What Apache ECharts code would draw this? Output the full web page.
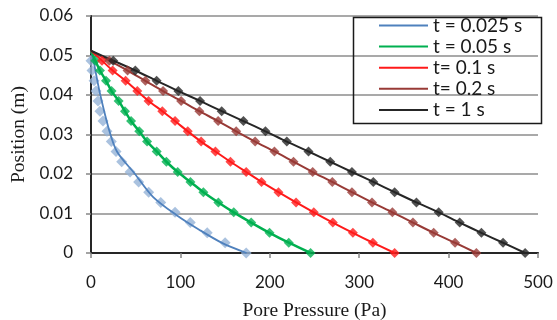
<!DOCTYPE html>
<html>
<head>
<meta charset="utf-8">
<script src="https://cdn.jsdelivr.net/npm/echarts@6/dist/echarts.min.js"></script>
<style>
  html, body { margin: 0; padding: 0; background: #fff; }
  #chart { width: 557px; height: 320px; }
</style>
</head>
<body>
<div id="chart"></div>
<script>
// positions of the nodes (m), bottom to top
const positions = [0, 0.0026, 0.0051, 0.0077, 0.0103, 0.0128, 0.0154, 0.0180, 0.0205, 0.0231,
                   0.0257, 0.0282, 0.0308, 0.0334, 0.0359, 0.0385, 0.0410, 0.0436, 0.0462, 0.0487];
const topPosition = 0.0512;

const seriesNames = ['t = 0.025 s', 't = 0.05 s', 't= 0.1 s', 't= 0.2 s', 't = 1 s'];

// pore pressure (Pa) at each node
const p0025 = [173.6, 150, 130, 111, 94, 78, 64.5, 53.3, 43.7, 34.3, 28, 22.7, 17.9, 13.4, 10, 7.8, 5.6, 3.4, 1.1, 0];
const p005 = [245.6, 221.2, 199.7, 179.2, 159.7, 142.5, 125.7, 111.2, 97, 84.3, 73.5, 62.7, 54, 44.8, 38, 30.9, 23, 16.8, 10, 4.8];
const p01 = [339.6, 315.3, 292.9, 270.5, 249.2, 229.4, 209.7, 190.7, 173.6, 156, 139.2, 123.2, 108.2, 94, 79.8, 64.4, 51.8, 38.7, 24.2, 12.3];
const p02 = [431.1, 407.2, 383.3, 360.1, 337.1, 314.3, 291.9, 269.9, 248, 226.5, 205.2, 183.6, 162.4, 142.2, 121.2, 100.8, 80.6, 60.8, 40.9, 20.5];
const p1 = [485.6, 460.9, 436.7, 412.4, 388.9, 364, 339.6, 315.8, 291.9, 267.6, 243.3, 219, 195.1, 170.5, 146.2, 122, 97.7, 73.4, 49.6, 24.9];

// analytical curve for t = 0.025 s
const curve0025P = [174, 147, 121, 95, 69, 48.5, 29, 19.7, 10.4, 5.9, 3.4, 0];
const curve0025Y = [0, 0.0025, 0.0059, 0.0097, 0.0143, 0.0202, 0.0257, 0.0316, 0.040, 0.045, 0.048, 0.0512];

const xTicks = [0, 100, 200, 300, 400, 500];
const yTicks = [0, 0.01, 0.02, 0.03, 0.04, 0.05, 0.06];

const lineColors = ['#4F81BD', '#00B050', '#FF1A1A', '#983A36', '#262626'];
const markerColors = ['#95B3D7', '#00B050', '#FF1A1A', '#983A36', '#262626'];
const lineWidths = [1.8, 2.5, 2, 2, 2];

const pressures = [p0025, p005, p01, p02, p1];

const chart = echarts.init(document.getElementById('chart'));

const lineSeries = pressures.map((p, i) => {
    let data;
    if (i === 0) {
        data = curve0025P.map((v, k) => [v, curve0025Y[k]]);
    } else {
        data = p.map((v, k) => [v, positions[k]]);
        data.push([0, topPosition]);
    }
    return {
        name: seriesNames[i],
        type: 'line',
        data: data,
        symbol: 'none',
        smooth: 0.3,
        lineStyle: { color: lineColors[i], width: lineWidths[i] },
        itemStyle: { color: lineColors[i] },
        z: 3
    };
});

const markerSeries = pressures.map((p, i) => ({
    name: seriesNames[i] + ' pts',
    type: 'scatter',
    data: p.map((v, k) => [v, positions[k]]),
    symbol: 'diamond',
    symbolSize: i === 0 ? 11 : 10,
    itemStyle: { color: markerColors[i] },
    z: i === 0 ? 2 : 4
}));

const axisFont = { fontFamily: 'Lato', fontSize: 17, color: '#1a1a1a' };
const nameFont = { fontFamily: 'Liberation Serif', fontSize: 19.5, color: '#1a1a1a' };

chart.setOption({
    animation: false,
    backgroundColor: '#fff',
    grid: { left: 91, right: 19, top: 16, bottom: 67, outerBoundsMode: 'none', containLabel: false },
    // legend frame
    graphic: [{
        type: 'rect',
        left: 351,
        top: 15,
        shape: { width: 188, height: 106 },
        style: { fill: 'none', stroke: '#1a1a1a', lineWidth: 1.5 },
        z: 10
    }],
    legend: {
        data: seriesNames,
        orient: 'vertical',
        left: 351,
        top: 16,
        padding: [0, 0, 0, 27],
        itemWidth: 49,
        itemHeight: 14,
        itemGap: 2.1,
        itemStyle: { opacity: 0 },
        borderWidth: 0,
        textStyle: { fontFamily: 'Lato', fontSize: 19, lineHeight: 19, color: '#1a1a1a' }
    },
    xAxis: [{
        type: 'value',
        min: 0,
        max: 500,
        interval: 100,
        name: 'Pore Pressure (Pa)',
        nameLocation: 'middle',
        nameGap: 48,
        nameTextStyle: nameFont,
        axisLine: { lineStyle: { color: '#868686', width: 1.5 } },
        axisTick: { show: true, length: 5, lineStyle: { color: '#868686', width: 1.5 } },
        axisLabel: Object.assign({ margin: 21, formatter: v => xTicks.includes(v) ? String(v) : '' }, axisFont),
        splitLine: { show: false }
    }, {
        type: 'value',
        position: 'top',
        min: 0,
        max: 500,
        axisLine: { show: true, lineStyle: { color: '#262626', width: 2 } },
        axisTick: { show: false },
        axisLabel: { show: false },
        splitLine: { show: false }
    }],
    yAxis: [{
        type: 'value',
        min: 0,
        max: 0.06,
        interval: 0.01,
        name: 'Position (m)',
        nameLocation: 'middle',
        nameGap: 60,
        nameTextStyle: nameFont,
        axisLine: { show: true, lineStyle: { color: '#868686', width: 1.5 } },
        axisTick: { show: true, length: 5, lineStyle: { color: '#868686', width: 1.5 } },
        axisLabel: Object.assign({ margin: 18, formatter: v => {
            const t = yTicks.find(y => Math.abs(y - v) < 1e-9);
            return t === undefined ? '' : (t === 0 ? '0' : t.toFixed(2));
        } }, axisFont),
        splitLine: { show: true, lineStyle: { color: '#8c8c8c', width: 1.5 } }
    }, {
        type: 'value',
        position: 'right',
        min: 0,
        max: 0.06,
        axisLine: { show: true, lineStyle: { color: '#262626', width: 2 } },
        axisTick: { show: false },
        axisLabel: { show: false },
        splitLine: { show: false }
    }],
    series: lineSeries.concat(markerSeries)
});
</script>
</body>
</html>
